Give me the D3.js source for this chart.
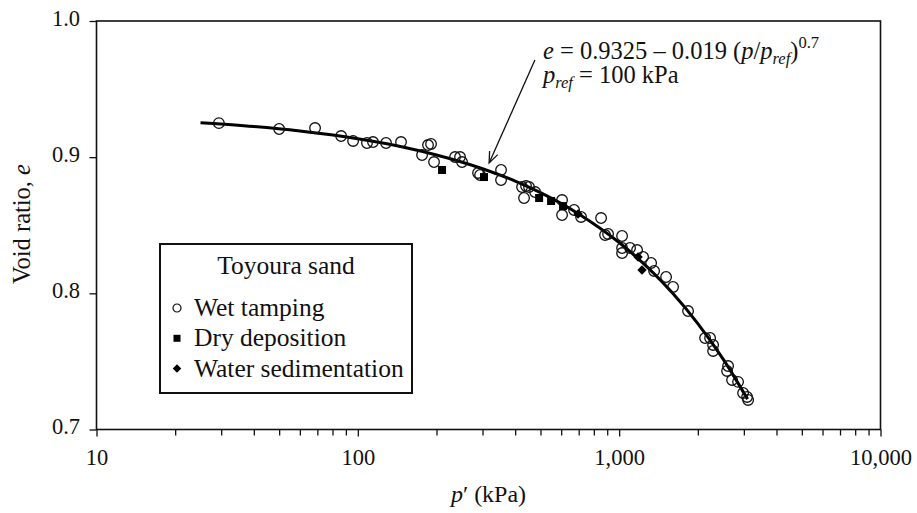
<!DOCTYPE html>
<html>
<head>
<meta charset="utf-8">
<script src="https://cdn.jsdelivr.net/npm/d3@7"></script>
<style>
  body { margin: 0; background: #fff; }
  svg { display: block; }
  text { font-family: "Liberation Serif", "DejaVu Serif", serif; fill: #111; }
</style>
</head>
<body>
<svg id="chart" width="917" height="513"></svg>
<script>
// wet tamping (open circles)
const wetP = [29.4, 50, 68.6, 86.3, 95.9, 108.4, 114.3, 128.2, 146.3, 176.1, 185.6, 190.6, 195.7,
  235.5, 246.1, 250.5, 288.4, 293.6, 353.2, 353.2, 425, 440.2, 451.9, 432.5, 476.8, 604.6, 604.6,
  672.2, 714.8, 852.7, 883.3, 906.8, 1026, 1026, 1026, 1100.7, 1171, 1234.6, 1325, 1360.6, 1512,
  1608, 1835, 2132, 2228, 2288, 2288, 2611, 2588, 2704, 2851, 2980, 3087, 3115];
const wetE = [0.925, 0.9207, 0.9214, 0.9155, 0.9119, 0.9104, 0.9111, 0.9104, 0.9111, 0.9016, 0.9089, 0.9097, 0.8964,
  0.9001, 0.9001, 0.8964, 0.8884, 0.8869, 0.8906, 0.8832, 0.8781, 0.8788, 0.8781, 0.870, 0.8744, 0.8685, 0.8575,
  0.8612, 0.8561, 0.8553, 0.8428, 0.8436, 0.8421, 0.8333, 0.8296, 0.8333, 0.8318, 0.8267, 0.8223, 0.8164, 0.812,
  0.8047, 0.787, 0.7672, 0.7672, 0.7621, 0.7577, 0.7466, 0.743, 0.7364, 0.735, 0.7268, 0.7239, 0.7217];

// dry deposition (filled squares)
const dryP = [210, 304, 494, 549, 610];
const dryE = [0.8906, 0.8854, 0.870, 0.8678, 0.8641];

// water sedimentation (filled diamonds)
const waterP = [696, 1181, 1223];
const waterE = [0.8583, 0.8267, 0.8171];

// fitted curve e = 0.9325 - 0.019 (p/pref)^0.7
const fitP = [25, 40, 60, 100, 150, 200, 300, 400, 500, 700, 1000, 1300, 1600, 2000, 2500, 3100];
const fitE = [0.9253, 0.9225, 0.9192, 0.9135, 0.9073, 0.9016, 0.8915, 0.8824, 0.8739, 0.8583,
  0.8373, 0.8181, 0.8002, 0.7778, 0.7517, 0.7223];

const xMajor = [10, 100, 1000, 10000];
const xLabels = ["10", "100", "1,000", "10,000"];
const yTicks = [0.7, 0.8, 0.9, 1.0];

const legendItems = ["Wet tamping", "Dry deposition", "Water sedimentation"];

// annotation arrow (data units): from text to curve
const arrowFrom = [476, 0.9714];
const arrowTo = [318, 0.8957];
const noteAt = [511, 0.9721];

const svg = d3.select("svg#chart");
const plotL = 96.5, plotR = 880.5, plotT = 21, plotB = 429.5;

const x = d3.scaleLog().domain([10, 10000]).range([plotL, plotR]);
const y = d3.scaleLinear().domain([0.7, 1.0]).range([plotB, plotT]);

// x axis with minor ticks
let allTicks = [];
for (let d = 10; d < 10000; d *= 10) {
  for (let k = 1; k < 10; k++) allTicks.push(d * k);
}
allTicks.push(10000);

const xAxis = svg.append("g")
  .attr("transform", "translate(0," + plotB + ")")
  .call(d3.axisBottom(x).tickValues(allTicks).tickSize(6).tickPadding(14)
    .tickFormat(d => {
      let i = xMajor.indexOf(d);
      return i >= 0 ? xLabels[i] : "";
    }));
xAxis.select(".domain").remove();
xAxis.selectAll("line").attr("stroke", "#111").attr("stroke-width", 1.3)
  .attr("y2", d => xMajor.indexOf(d) >= 0 ? 7 : 6);
xAxis.selectAll("text").attr("font-size", 22.5).attr("font-family", "Liberation Serif").attr("fill", "#111");

const yAxis = svg.append("g")
  .attr("transform", "translate(" + plotL + ",0)")
  .call(d3.axisLeft(y).tickValues(yTicks).tickSize(7).tickPadding(9.5).tickFormat(d3.format(".1f")));
yAxis.select(".domain").remove();
yAxis.selectAll("line").attr("stroke", "#111").attr("stroke-width", 1.3);
yAxis.selectAll("text").attr("font-size", 22.5).attr("font-family", "Liberation Serif")
  .attr("fill", "#111").attr("dy", "0.18em");

// frame
svg.append("rect")
  .attr("x", plotL).attr("y", plotT)
  .attr("width", plotR - plotL).attr("height", plotB - plotT)
  .attr("fill", "none").attr("stroke", "#111").attr("stroke-width", 1.6);

// fitted line
const fitData = fitP.map((p, i) => [p, fitE[i]]);
svg.append("path")
  .datum(fitData)
  .attr("fill", "none")
  .attr("stroke", "#000")
  .attr("stroke-width", 3)
  .attr("d", d3.line().x(d => x(d[0])).y(d => y(d[1])).curve(d3.curveMonotoneX));

// wet tamping
svg.append("g").selectAll("circle")
  .data(wetP.map((p, i) => [p, wetE[i]]))
  .join("circle")
  .attr("cx", d => x(d[0]))
  .attr("cy", d => y(d[1]))
  .attr("r", 5.3)
  .attr("fill", "none")
  .attr("stroke", "#111")
  .attr("stroke-width", 1.3);

// dry deposition
svg.append("g").selectAll("path")
  .data(dryP.map((p, i) => [p, dryE[i]]))
  .join("path")
  .attr("transform", d => "translate(" + x(d[0]) + "," + y(d[1]) + ")")
  .attr("d", d3.symbol(d3.symbolSquare, 64))
  .attr("fill", "#000");

// water sedimentation
svg.append("g").selectAll("path")
  .data(waterP.map((p, i) => [p, waterE[i]]))
  .join("path")
  .attr("transform", d => "translate(" + x(d[0]) + "," + y(d[1]) + ") rotate(45)")
  .attr("d", d3.symbol(d3.symbolSquare, 44))
  .attr("fill", "#000");

// axis titles
svg.append("text")
  .attr("transform", "translate(30,224) rotate(-90)")
  .attr("text-anchor", "middle")
  .attr("font-size", 24.5)
  .call(t => {
    t.append("tspan").text("Void ratio, ");
    t.append("tspan").attr("font-style", "italic").text("e");
  });

svg.append("text")
  .attr("x", (plotL + plotR) / 2)
  .attr("y", 502)
  .attr("text-anchor", "middle")
  .attr("font-size", 24)
  .call(t => {
    t.append("tspan").attr("font-style", "italic").text("p");
    t.append("tspan").text("\u2032 (kPa)");
  });

// annotation
const ax1 = x(arrowFrom[0]), ay1 = y(arrowFrom[1]);
const ax2 = x(arrowTo[0]), ay2 = y(arrowTo[1]);
svg.append("line")
  .attr("x1", ax1).attr("y1", ay1).attr("x2", ax2).attr("y2", ay2)
  .attr("stroke", "#111").attr("stroke-width", 1.3);
const ang = Math.atan2(ay2 - ay1, ax2 - ax1);
const hl = 12, hw = 0.38;
svg.append("path")
  .attr("d", "M" + (ax2 - hl * Math.cos(ang - hw)) + "," + (ay2 - hl * Math.sin(ang - hw)) +
    "L" + ax2 + "," + ay2 +
    "L" + (ax2 - hl * Math.cos(ang + hw)) + "," + (ay2 - hl * Math.sin(ang + hw)))
  .attr("fill", "none").attr("stroke", "#111").attr("stroke-width", 1.3);

const nx = x(noteAt[0]), ny = y(noteAt[1]);
const note1 = svg.append("text").attr("x", nx).attr("y", ny).attr("font-size", 24.5);
note1.append("tspan").attr("font-style", "italic").text("e");
note1.append("tspan").text(" = 0.9325 \u2013 0.019 (");
note1.append("tspan").attr("font-style", "italic").text("p");
note1.append("tspan").text("/");
note1.append("tspan").attr("font-style", "italic").text("p");
note1.append("tspan").attr("font-style", "italic").attr("font-size", 16.5).attr("dy", 5).text("ref");
note1.append("tspan").attr("dy", -5).text(")");
note1.append("tspan").attr("font-size", 16.5).attr("dy", -11).text("0.7");

const note2 = svg.append("text").attr("x", nx).attr("y", ny + 24.5).attr("font-size", 24.5);
note2.append("tspan").attr("font-style", "italic").text("p");
note2.append("tspan").attr("font-style", "italic").attr("font-size", 16.5).attr("dy", 5).text("ref");
note2.append("tspan").attr("dy", -5).text(" = 100 kPa");

// legend
const lg = svg.append("g").attr("transform", "translate(160,244)");
lg.append("rect")
  .attr("width", 252).attr("height", 149)
  .attr("fill", "#fff").attr("stroke", "#111").attr("stroke-width", 2);
lg.append("text")
  .attr("x", 126).attr("y", 29.5)
  .attr("text-anchor", "middle")
  .attr("font-size", 25.5)
  .text("Toyoura sand");
const rows = lg.selectAll("g.item")
  .data(legendItems)
  .join("g")
  .attr("class", "item")
  .attr("transform", (d, i) => "translate(17," + (64 + i * 30.3) + ")");
rows.append("text")
  .attr("x", 17).attr("y", 8)
  .attr("font-size", 25.5)
  .text(d => d);
rows.filter((d, i) => i === 0).append("circle")
  .attr("r", 4).attr("fill", "none").attr("stroke", "#111").attr("stroke-width", 1.2);
rows.filter((d, i) => i === 1).append("path")
  .attr("d", d3.symbol(d3.symbolSquare, 49)).attr("fill", "#000");
rows.filter((d, i) => i === 2).append("path")
  .attr("transform", "rotate(45)")
  .attr("d", d3.symbol(d3.symbolSquare, 36)).attr("fill", "#000");
</script>
</body>
</html>
